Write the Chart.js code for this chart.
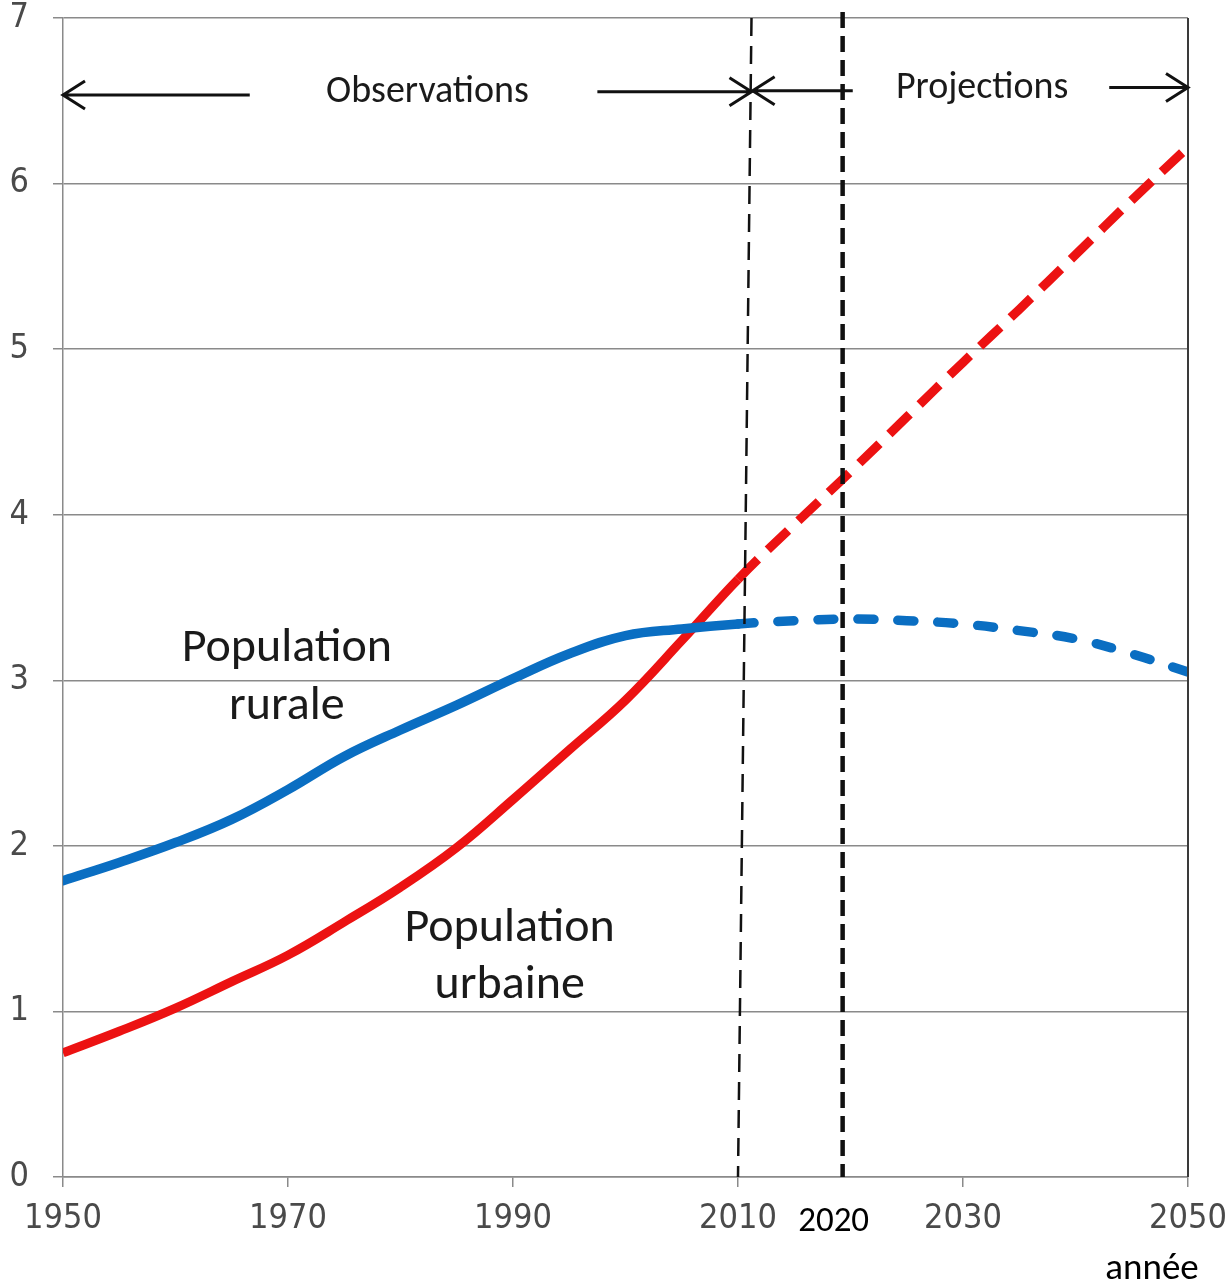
<!DOCTYPE html>
<html>
<head>
<meta charset="utf-8">
<script src="https://cdn.jsdelivr.net/npm/chart.js@4/dist/chart.umd.min.js"></script>
<style>
  html, body { margin: 0; padding: 0; background: #fff; }
  #wrap { width: 1229px; height: 1286px; position: relative; }
</style>
</head>
<body>
<div id="wrap"><canvas id="chart"></canvas></div>
<script>
const years = [1950, 1955, 1960, 1965, 1970, 1975, 1980, 1985, 1990, 1995, 2000, 2005, 2010, 2015, 2020, 2025, 2030, 2035, 2040, 2045, 2050];
const rural = [1.79, 1.90, 2.02, 2.16, 2.34, 2.54, 2.70, 2.85, 3.01, 3.16, 3.27, 3.31, 3.34, 3.36, 3.37, 3.36, 3.34, 3.30, 3.25, 3.16, 3.05];
const urban = [0.75, 0.88, 1.02, 1.18, 1.34, 1.54, 1.75, 1.99, 2.28, 2.58, 2.88, 3.24, 3.61, 3.94, 4.26, 4.59, 4.92, 5.24, 5.57, 5.90, 6.22];
const xTicks = [1950, 1970, 1990, 2010, 2030, 2050];
const projectionStart = 2010;

const FONT = '"Liberation Sans Narrow", "DejaVu Sans Condensed", "Liberation Sans", sans-serif';
const TEXT_FONT = 'Carlito, "Open Sans", "Liberation Sans", sans-serif';

function toPoints(values) {
  return years.map((year, i) => ({ x: year, y: values[i] }));
}

function dashAfter(dash) {
  return (ctx) => (ctx.p0.parsed.x >= projectionStart ? dash : undefined);
}

const overlay = {
  id: "overlay",
  afterDatasetsDraw(chart) {
    const { ctx, chartArea } = chart;
    const x = chart.scales.x;
    const y = chart.scales.y;

    ctx.save();
    // right border of the plot
    ctx.strokeStyle = "#3a3a3a";
    ctx.lineWidth = 2;
    ctx.beginPath();
    ctx.moveTo(chartArea.right, chartArea.top);
    ctx.lineTo(chartArea.right, chartArea.bottom);
    ctx.stroke();

    // 2010 separator (thin dashed)
    ctx.strokeStyle = "#111";
    ctx.lineWidth = 2.5;
    ctx.setLineDash([18, 10]);
    ctx.beginPath();
    ctx.moveTo(x.getPixelForValue(2011.2), chartArea.top);
    ctx.lineTo(x.getPixelForValue(2010), chartArea.bottom);
    ctx.stroke();

    // 2020 marker (thick dashed)
    ctx.lineWidth = 4.5;
    ctx.setLineDash([16, 8]);
    const x20 = x.getPixelForValue(2019.3);
    ctx.beginPath();
    ctx.moveTo(x20, chartArea.top - 6);
    ctx.lineTo(x20, chartArea.bottom);
    ctx.stroke();
    ctx.setLineDash([]);

    // arrows
    function arrow(x0, x1, yv, head) {
      const px0 = x.getPixelForValue(x0);
      const px1 = x.getPixelForValue(x1);
      const py = y.getPixelForValue(yv);
      ctx.strokeStyle = "#111";
      ctx.lineWidth = 3;
      ctx.beginPath();
      ctx.moveTo(px0, py);
      ctx.lineTo(px1, py);
      const dir = head === "left" ? 1 : -1;
      const hx = head === "left" ? Math.min(px0, px1) : Math.max(px0, px1);
      ctx.moveTo(hx + dir * 22, py - 14);
      ctx.lineTo(hx, py);
      ctx.lineTo(hx + dir * 22, py + 14);
      ctx.stroke();
    }
    arrow(1950, 1966.6, 6.535, "left");
    arrow(1997.5, 2011.2, 6.555, "right");
    arrow(2011.3, 2020.2, 6.56, "left");
    arrow(2043.0, 2050, 6.58, "right");

    ctx.fillStyle = "#1a1a1a";
    ctx.textAlign = "center";
    ctx.textBaseline = "middle";
    ctx.font = "38px " + TEXT_FONT;
    ctx.fillText("Observations", x.getPixelForValue(1982.4), y.getPixelForValue(6.55));
    ctx.fillText("Projections", x.getPixelForValue(2031.7), y.getPixelForValue(6.575));

    ctx.font = "48px " + TEXT_FONT;
    ctx.fillText("Population", x.getPixelForValue(1969.9), y.getPixelForValue(3.19));
    ctx.fillText("rurale", x.getPixelForValue(1969.9), y.getPixelForValue(2.84));
    ctx.fillText("Population", x.getPixelForValue(1989.7), y.getPixelForValue(1.50));
    ctx.fillText("urbaine", x.getPixelForValue(1989.7), y.getPixelForValue(1.155));

    // extra tick label and axis title
    ctx.fillStyle = "#000";
    ctx.font = "35px " + TEXT_FONT;
    ctx.fillText("2020", x.getPixelForValue(2018.5), chartArea.bottom + 45);
    ctx.font = "37px " + TEXT_FONT;
    ctx.fillText("année", x.getPixelForValue(2046.8), chartArea.bottom + 93);
    ctx.restore();
  }
};

new Chart(document.getElementById("chart"), {
  type: "line",
  data: {
    datasets: [
      {
        label: "Population rurale",
        data: toPoints(rural),
        borderColor: "#0A6EC2",
        borderWidth: 9.5,
        borderCapStyle: "round",
        tension: 0.4,
        pointRadius: 0,
        segment: { borderDash: dashAfter([16, 24]) }
      },
      {
        label: "Population urbaine",
        data: toPoints(urban),
        borderColor: "#EC1212",
        borderWidth: 9,
        borderCapStyle: "butt",
        tension: 0.4,
        pointRadius: 0,
        segment: { borderDash: dashAfter([28, 14]) }
      }
    ]
  },
  options: {
    responsive: true,
    maintainAspectRatio: false,
    animation: false,
    layout: { padding: { top: 18, right: 41, left: 0, bottom: 0 } },
    plugins: {
      legend: { display: false },
      tooltip: { enabled: false }
    },
    scales: {
      x: {
        type: "linear",
        min: 1950,
        max: 2050,
        afterBuildTicks(scale) {
          scale.ticks = xTicks.map((v) => ({ value: v }));
        },
        afterFit(scale) {
          scale.height = 109;
          scale.paddingLeft = 0;
          scale.paddingRight = 0;
        },
        grid: { drawOnChartArea: false, drawTicks: true, tickLength: 10, color: "#8a8a8a", lineWidth: 1.5 },
        border: { color: "#8a8a8a", width: 1.5 },
        ticks: {
          color: "#4a4a4a",
          padding: 12,
          maxRotation: 0,
          font: { family: FONT, size: 34 },
          callback: (v) => String(v)
        }
      },
      y: {
        min: 0,
        max: 7,
        afterFit(scale) {
          scale.width = 63;
          scale.paddingTop = 0;
          scale.paddingBottom = 0;
        },
        grid: { color: "#8a8a8a", lineWidth: 1.5, tickLength: 10 },
        border: { color: "#8a8a8a", width: 1.5 },
        ticks: {
          stepSize: 1,
          color: "#4a4a4a",
          padding: 24,
          font: { family: FONT, size: 34 }
        }
      }
    }
  },
  plugins: [overlay]
});
</script>
</body>
</html>
